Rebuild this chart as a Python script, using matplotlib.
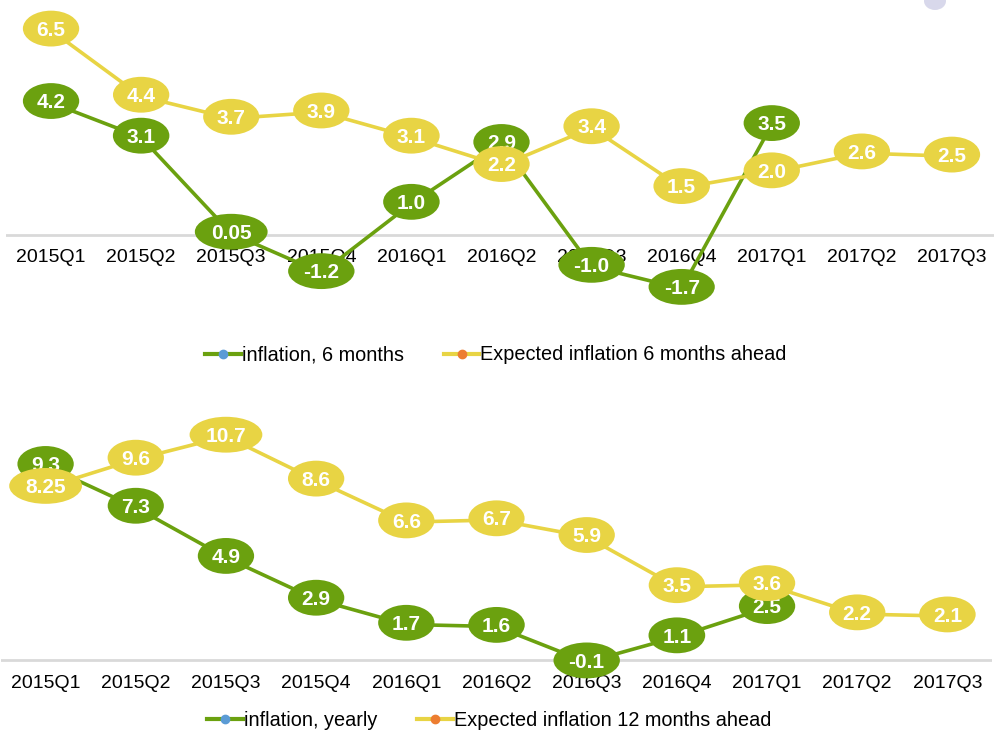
import matplotlib
matplotlib.use("Agg")
import matplotlib.pyplot as plt
from matplotlib.path import Path
from matplotlib.transforms import Affine2D
from matplotlib.lines import Line2D
from matplotlib.patches import Ellipse

plt.rcParams['font.family'] = ['Liberation Sans', 'DejaVu Sans']

quarters = ['2015Q1', '2015Q2', '2015Q3', '2015Q4', '2016Q1', '2016Q2',
            '2016Q3', '2016Q4', '2017Q1', '2017Q2', '2017Q3']

# top panel: half-year figures
infl_6m = [4.2, 3.1, 0.05, -1.2, 1.0, 2.9, -1.0, -1.7, 3.5]
exp_6m = [6.5, 4.4, 3.7, 3.9, 3.1, 2.2, 3.4, 1.5, 2.0, 2.6, 2.5]

# bottom panel: yearly figures
infl_yearly = [9.3, 7.3, 4.9, 2.9, 1.7, 1.6, -0.1, 1.1, 2.5]
exp_12m = [8.25, 9.6, 10.7, 8.6, 6.6, 6.7, 5.9, 3.5, 3.6, 2.2, 2.1]

legend_top = ['inflation, 6 months', 'Expected inflation 6 months ahead']
legend_bottom = ['inflation, yearly', 'Expected inflation 12 months ahead']

green = '#6ba10f'
yellow = '#e8d444'
dot_blue = '#5b9bd5'
dot_orange = '#ed7d31'


def oval(x0, y0, width, height, mutation_size):
    # wide flat ellipse behind the data labels
    cx = x0 + width / 2
    cy = y0 + height / 2 + 0.08 * mutation_size
    w = (width + 0.52 * mutation_size) * 2 ** 0.5
    h = 1.72 * mutation_size
    return Path.unit_circle().transformed(Affine2D().scale(w / 2, h / 2).translate(cx, cy))


def fmt(v):
    return '%.2f' % v if round(v, 1) != v else '%.1f' % v


def panel(ax, actual, expected, label_y, names, legend_y, legend_x):
    x_all = list(range(len(quarters)))
    x_act = x_all[:len(actual)]
    ax.axhline(0, color='#d9d9d9', lw=2, zorder=0.5)
    ax.plot(x_act, actual, color=green, lw=2.6, zorder=2, solid_capstyle='round')
    ax.plot(x_all, expected, color=yellow, lw=2.6, zorder=2.1, solid_capstyle='round')
    for x, v in zip(x_act, actual):
        ax.text(x, v, fmt(v), ha='center', va='center', color='white', fontsize=15,
                fontweight='bold', zorder=3, clip_on=False,
                bbox=dict(boxstyle=oval, fc=green, ec='none'))
    for x, v in zip(x_all, expected):
        ax.text(x, v, fmt(v), ha='center', va='center', color='white', fontsize=15,
                fontweight='bold', zorder=4, clip_on=False,
                bbox=dict(boxstyle=oval, fc=yellow, ec='none'))
    for x, q in zip(x_all, quarters):
        ax.text(x, label_y, q, ha='center', va='center', fontsize=14, color='black', zorder=1)
    ax.set_xlim(-0.5, len(quarters) - 0.5)
    ax.axis('off')
    handles = [Line2D([], [], color=green, lw=3, marker='o', markersize=6,
                      markerfacecolor=dot_blue, markeredgecolor=dot_blue),
               Line2D([], [], color=yellow, lw=3, marker='o', markersize=6,
                      markerfacecolor=dot_orange, markeredgecolor=dot_orange)]
    ax.figure.legend(handles, names, loc='center', ncol=2, frameon=False, fontsize=14.3,
                     bbox_to_anchor=(legend_x, legend_y), handlelength=1.8,
                     handletextpad=0.05, columnspacing=2.0, borderaxespad=0)


fig = plt.figure(figsize=(9.95, 7.33), dpi=100)
W, H = 995.0, 733.0

# top axes: zero at y=235 px, 31.5 px per unit
ax1 = fig.add_axes([6 / W, 1 - 320 / H, 991 / W, 320 / H])
ax1.set_ylim(-(320 - 235) / 31.5, 235 / 31.5)
panel(ax1, infl_6m, exp_6m, (235 - 258) / 31.5, legend_top, 1 - 355 / H, 496 / W)

# bottom axes: zero at y=660 px, 20.9 px per unit
ax2 = fig.add_axes([0.5 / W, 1 - 700 / H, 992 / W, 300 / H])
ax2.set_ylim(-(700 - 660) / 20.9, (660 - 400) / 20.9)
panel(ax2, infl_yearly, exp_12m, (660 - 684) / 20.9, legend_bottom, 1 - 720 / H, 489 / W)

# faint logo corner at the top right
fig.patches.append(Ellipse((935 / W, 1 - 1 / H), 22 / W, 18 / H, transform=fig.transFigure,
                           fc='#cfcfe6', ec='none', alpha=0.8))

fig.savefig('out.png', dpi=100)
